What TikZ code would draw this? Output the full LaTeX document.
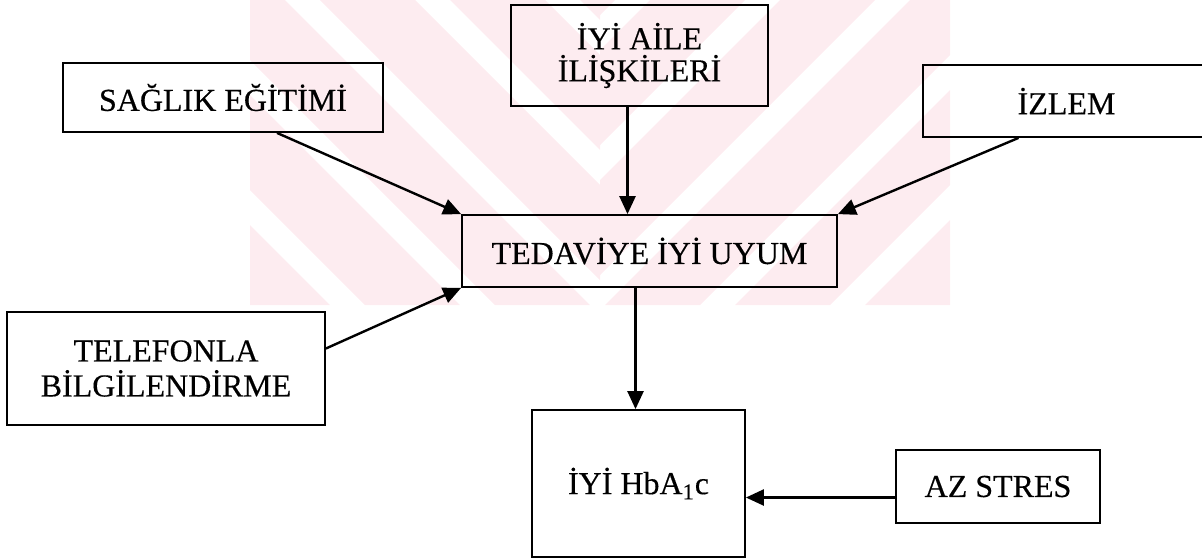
\documentclass[tikz,border=0pt]{standalone}
\usepackage{fontspec}
\setmainfont{Liberation Serif}[UprightFeatures={FakeBold=0.35}]
\usetikzlibrary{arrows.meta,positioning}
\definecolor{wmpink}{RGB}{253,236,240}

\begin{document}
\begin{tikzpicture}[x=0.5pt,y=-0.5pt,>={Triangle[length=9pt,width=8pt]},
    box/.style={draw,line width=0.9pt,inner sep=0pt,align=center,font=\fontsize{16}{17.5}\selectfont},
    arr/.style={->,line width=1.2pt}]
  \useasboundingbox (0,0) rectangle (1202,559);
  \clip (0,0) rectangle (1202,559);
  % faint watermark stripes
  \begin{scope}
    \clip (250,0) rectangle (600,305);
    \foreach \s in {-200,-70,...,700}
      \fill[wmpink] (\s,0) -- (\s+95,0) -- (\s+400,305) -- (\s+305,305) -- cycle;
  \end{scope}
  \begin{scope}
    \clip (600,0) rectangle (950,305);
    \foreach \s in {520,650,...,1400}
      \fill[wmpink] (\s,0) -- (\s+95,0) -- (\s-210,305) -- (\s-305,305) -- cycle;
  \end{scope}

  \node[box,minimum width=160pt,minimum height=34.5pt] (saglik) at (223,97.5) {SAĞLIK EĞİTİMİ};
  \node[box,minimum width=128.5pt,minimum height=50.5pt,font=\fontsize{16}{16}\selectfont] (aile) at (639.5,55.5) {İYİ AİLE\\İLİŞKİLERİ};
  \node[box,minimum width=143.5pt,minimum height=36pt] (izlem) at (1066.5,101) {İZLEM};
  \node[box,minimum width=187.5pt,minimum height=36pt] (tedavi) at (649.5,251) {TEDAVİYE İYİ UYUM};
  \node[box,minimum width=159pt,minimum height=56.5pt] (telefon) at (166,368.5) {TELEFONLA\\BİLGİLENDİRME};
  \node[box,minimum width=106.5pt,minimum height=73.5pt] (hba) at (638.5,483.5) {İYİ HbA\textsubscript{1}c};
  \node[box,minimum width=102pt,minimum height=36.5pt] (stres) at (998,486.5) {AZ STRES};

  \draw[arr] ([xshift=27pt]saglik.south) -- (tedavi.north west);
  \draw[arr] ([xshift=-6pt]aile.south) -- ([xshift=-6pt]aile.south |- tedavi.north);
  \draw[arr] ([xshift=-24pt]izlem.south) -- (tedavi.north east);
  \draw[arr] ([yshift=10pt]telefon.east) -- (tedavi.south west);
  \draw[arr] ([xshift=-7pt]tedavi.south) -- ([xshift=-7pt]tedavi.south |- hba.north);
  \draw[arr] ([yshift=-5.5pt]stres.west) -- ([yshift=-5.5pt]stres.west -| hba.east);
\end{tikzpicture}
\end{document}
